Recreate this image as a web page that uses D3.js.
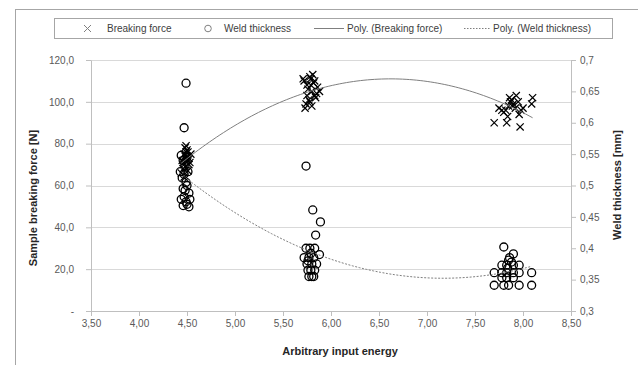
<!DOCTYPE html>
<html>
<head>
<meta charset="utf-8">
<script src="https://cdn.jsdelivr.net/npm/d3@7/dist/d3.min.js"></script>
<style>
  body { margin: 0; background: #fff; }
  svg { display: block; font-family: "Liberation Sans", Arial, sans-serif; }
</style>
</head>
<body>
<svg id="chart" width="638" height="365"></svg>
<script>
// breaking force samples (left axis)
const forceEnergy = [
  4.45,4.47,4.48,4.50,4.52,4.46,4.49,4.51,4.53,4.44,4.48,4.50,4.47,4.52,4.49,4.46,4.51,4.48,4.50,4.54,4.47,4.49,
  5.72,5.75,5.78,5.80,5.83,5.86,5.74,5.77,5.79,5.82,5.85,5.73,5.76,5.81,5.84,5.78,5.71,5.88,5.79,5.75,5.83,5.80,
  7.70,7.75,7.80,7.83,7.85,7.88,7.90,7.93,7.95,7.98,8.00,7.84,7.97,8.09,8.10,7.82,7.87,7.92,7.86,7.78,7.96,7.89
]
const force = [
  72,75,78,74,70,68,73,76,71,66,69,77,64,73,79,71,67,74,72,75,70,76,
  110,108,112,105,103,107,99,101,111,109,104,97,106,113,102,100,111,105,108,103,110,98,
  90,97,95,90,98,101,99,103,100,96,97,93,88,99,102,96,100,97,102,96,94,98
]

// weld thickness samples (right axis)
const thickEnergy = [
  4.49,4.47,4.44,4.46,4.48,4.50,4.43,4.45,4.47,4.49,4.51,4.46,4.48,4.50,4.52,4.44,4.47,4.49,4.53,4.46,4.50,4.52,
  5.74,5.81,5.89,5.84,5.74,5.78,5.83,5.88,5.72,5.77,5.82,5.75,5.80,5.85,5.76,5.79,5.83,5.77,5.80,5.82,5.79,5.76,
  7.80,7.90,7.85,7.78,7.83,7.90,7.96,7.70,7.78,7.83,7.90,7.96,8.09,7.78,7.83,7.90,7.70,7.80,7.85,7.96,8.09,7.86,7.88,7.84
]
const thickness = [
  0.663,0.592,0.548,0.540,0.532,0.545,0.522,0.512,0.518,0.505,0.522,0.495,0.492,0.500,0.488,0.478,0.482,0.474,0.478,0.468,0.470,0.466,
  0.531,0.461,0.442,0.421,0.400,0.400,0.400,0.390,0.385,0.385,0.385,0.375,0.375,0.375,0.365,0.365,0.365,0.355,0.355,0.355,0.392,0.380,
  0.402,0.391,0.381,0.373,0.373,0.373,0.373,0.361,0.361,0.361,0.361,0.361,0.361,0.353,0.353,0.353,0.341,0.341,0.341,0.341,0.341,0.385,0.378,0.368
]

const xTicks = [3.5,4,4.5,5,5.5,6,6.5,7,7.5,8,8.5]
const leftTicks = [0,20,40,60,80,100,120]
const rightTicks = [0.3,0.35,0.4,0.45,0.5,0.55,0.6,0.65,0.7]
const legendLabels = ['Breaking force','Weld thickness','Poly. (Breaking force)','Poly. (Weld thickness)']

const svg = d3.select('#chart')
const plotL = 91, plotR = 571, plotT = 60, plotB = 311

const x = d3.scaleLinear().domain([3.5, 8.5]).range([plotL, plotR])
const yL = d3.scaleLinear().domain([0, 120]).range([plotB, plotT])
const yR = d3.scaleLinear().domain([0.3, 0.7]).range([plotB, plotT])

const loc = d3.formatLocale({decimal: ',', thousands: '.', grouping: [3], currency: ['', '']})

// outer chart frame
svg.append('rect').attr('x', 15.5).attr('y', 9.5).attr('width', 700).attr('height', 400)
  .attr('fill', 'none').attr('stroke', '#a6a6a6')

// gridlines
svg.append('g').selectAll('line').data(leftTicks.filter(d => d > 0)).enter().append('line')
  .attr('x1', plotL).attr('x2', plotR)
  .attr('y1', d => Math.round(yL(d)) + 0.5).attr('y2', d => Math.round(yL(d)) + 0.5)
  .attr('stroke', '#d9d9d9')

function styleAxis(g) {
  g.select('.domain').attr('stroke', '#bfbfbf')
  g.selectAll('.tick line').attr('stroke', '#bfbfbf')
  g.selectAll('.tick text').attr('fill', '#595959').style('font-size', '10px')
}

svg.append('g').attr('transform', `translate(0,${plotB})`)
  .call(d3.axisBottom(x).tickValues(xTicks).tickFormat(loc.format('.2f')).tickSize(5).tickSizeOuter(0))
  .call(styleAxis)
  .call(g => g.selectAll('.tick text').attr('y', 9))

svg.append('g').attr('transform', `translate(${plotL},0)`)
  .call(d3.axisLeft(yL).tickValues(leftTicks).tickFormat(d => d === 0 ? '-' : loc.format('.1f')(d)).tickSize(5).tickSizeOuter(0))
  .call(styleAxis)
  .call(g => g.selectAll('.tick text').attr('x', -17))

svg.append('g').attr('transform', `translate(${plotR},0)`)
  .call(d3.axisRight(yR).tickValues(rightTicks).tickFormat(d => loc.format('')(+d.toFixed(2))).tickSize(5).tickSizeOuter(0))
  .call(styleAxis)
  .call(g => g.selectAll('.tick text').attr('x', 9))

// axis titles
svg.append('text').attr('x', 340).attr('y', 355).attr('text-anchor', 'middle')
  .style('font-size', '11px').style('font-weight', 'bold').attr('fill', '#262626')
  .text('Arbitrary input energy')
svg.append('text').attr('transform', 'translate(37,198) rotate(-90)').attr('text-anchor', 'middle')
  .style('font-size', '11px').style('font-weight', 'bold').attr('fill', '#262626')
  .text('Sample breaking force [N]')
svg.append('text').attr('transform', 'translate(621,185) rotate(-90)').attr('text-anchor', 'middle')
  .style('font-size', '11px').style('font-weight', 'bold').attr('fill', '#262626')
  .text('Weld thickness [mm]')

// second order least squares fit, like an Excel poly trendline
function polyFit(xs, ys) {
  const s = [0,0,0,0,0], t = [0,0,0]
  xs.forEach((xi, i) => {
    for (let k = 0; k < 5; k++) s[k] += Math.pow(xi, k)
    for (let k = 0; k < 3; k++) t[k] += ys[i] * Math.pow(xi, k)
  })
  const A = [[s[0],s[1],s[2],t[0]],[s[1],s[2],s[3],t[1]],[s[2],s[3],s[4],t[2]]]
  for (let i = 0; i < 3; i++) {
    for (let j = i + 1; j < 3; j++) {
      const f = A[j][i] / A[i][i]
      for (let k = i; k < 4; k++) A[j][k] -= f * A[i][k]
    }
  }
  const c = [0,0,0]
  for (let i = 2; i >= 0; i--) {
    let v = A[i][3]
    for (let k = i + 1; k < 3; k++) v -= A[i][k] * c[k]
    c[i] = v / A[i][i]
  }
  return xv => c[0] + c[1] * xv + c[2] * xv * xv
}

function trend(xs, ys, yScale, dash) {
  const f = polyFit(xs, ys)
  const [lo, hi] = d3.extent(xs)
  const pts = d3.range(0, 101).map(i => lo + (hi - lo) * i / 100)
  svg.append('path')
    .attr('d', d3.line().x(d => x(d)).y(d => yScale(f(d)))(pts))
    .attr('fill', 'none').attr('stroke', '#7f7f7f').attr('stroke-width', 1)
    .attr('stroke-dasharray', dash)
}

// circles
svg.append('g').selectAll('circle').data(thickness).enter().append('circle')
  .attr('cx', (d, i) => x(thickEnergy[i])).attr('cy', d => yR(d)).attr('r', 4)
  .attr('fill', 'none').attr('stroke', '#000').attr('stroke-width', 1.3)

// crosses
const cs = 3.6
svg.append('g').selectAll('path').data(force).enter().append('path')
  .attr('transform', (d, i) => `translate(${x(forceEnergy[i])},${yL(d)})`)
  .attr('d', `M${-cs},${-cs}L${cs},${cs}M${-cs},${cs}L${cs},${-cs}`)
  .attr('stroke', '#000').attr('stroke-width', 1.2)

trend(forceEnergy, force, yL, null)
trend(thickEnergy, thickness, yR, '2,1.5')

// legend
const lg = svg.append('g')
lg.append('rect').attr('x', 54.5).attr('y', 18.5).attr('width', 558).attr('height', 20)
  .attr('fill', '#fff').attr('stroke', '#a6a6a6')
const ly = 28.5
lg.append('path').attr('d', `M84,${ly - 3.5}L91,${ly + 3.5}M84,${ly + 3.5}L91,${ly - 3.5}`)
  .attr('stroke', '#808080').attr('stroke-width', 1)
lg.append('circle').attr('cx', 208).attr('cy', ly).attr('r', 3.3)
  .attr('fill', 'none').attr('stroke', '#808080').attr('stroke-width', 1)
lg.append('line').attr('x1', 314).attr('x2', 344).attr('y1', ly).attr('y2', ly)
  .attr('stroke', '#7f7f7f')
lg.append('line').attr('x1', 464).attr('x2', 490).attr('y1', ly).attr('y2', ly)
  .attr('stroke', '#7f7f7f').attr('stroke-dasharray', '1.5,1.5')
const lx = [107, 224, 347, 493]
lg.selectAll('text.lab').data(legendLabels).enter().append('text')
  .attr('class', 'lab')
  .attr('x', (d, i) => lx[i]).attr('y', ly + 3.5)
  .style('font-size', '10px').attr('fill', '#404040')
  .text(d => d)
</script>
</body>
</html>
